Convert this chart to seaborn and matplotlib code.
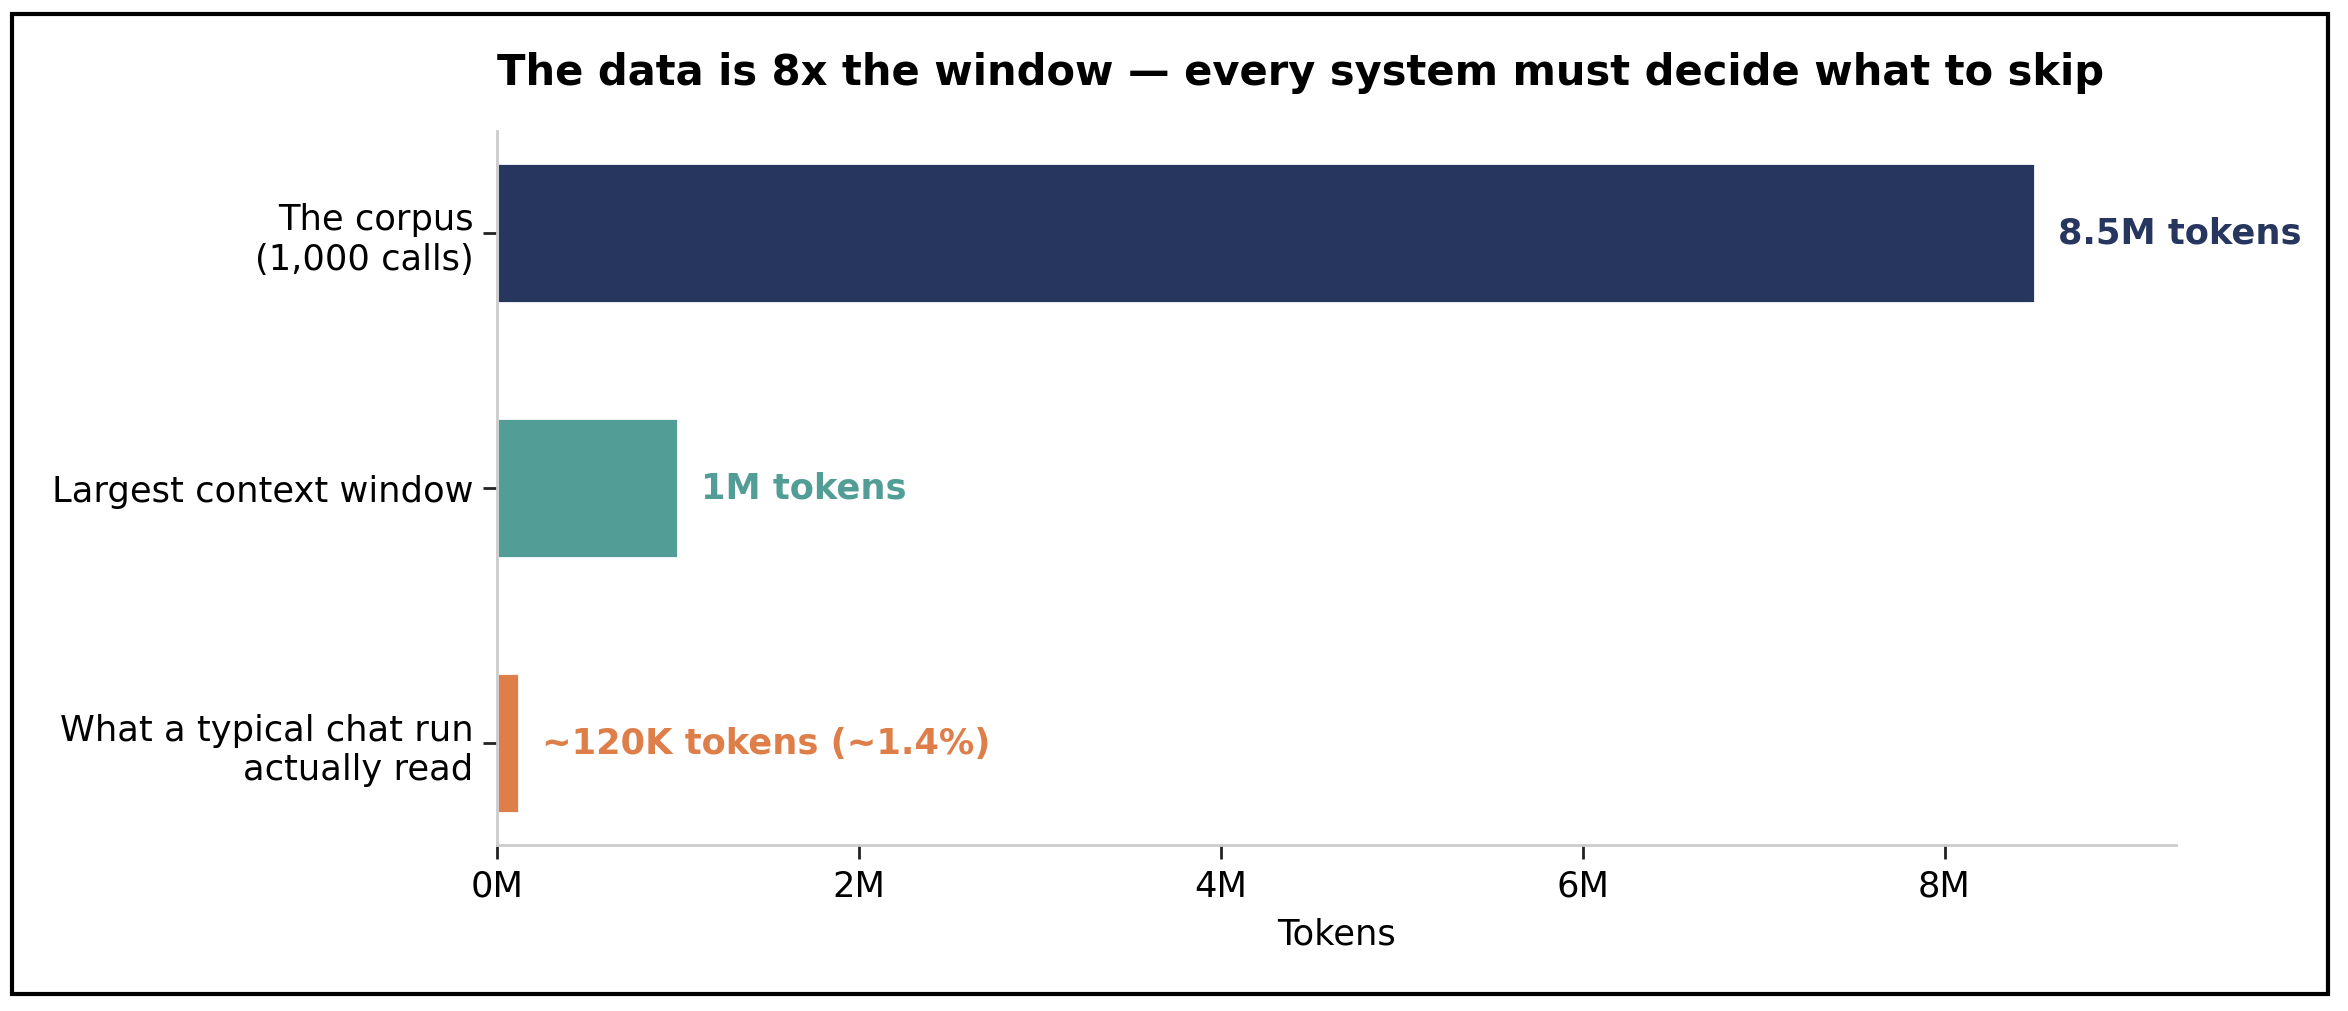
import matplotlib.pyplot as plt
from matplotlib.patches import Rectangle
from matplotlib.ticker import FuncFormatter
import seaborn as sns
import pandas as pd

categories = ["The corpus\n(1,000 calls)", "Largest context window",
              "What a typical chat run\nactually read"]
tokens = [8_500_000, 1_000_000, 120_000]
value_labels = ["8.5M tokens", "1M tokens", "~120K tokens (~1.4%)"]
bar_colors = ["#27365f", "#529e97", "#de7f4a"]
x_ticks = [0, 2_000_000, 4_000_000, 6_000_000, 8_000_000]

sns.set_theme(style="white")
plt.rcParams['font.family'] = ['DejaVu Sans']
plt.rcParams.update({'text.color': 'black', 'axes.labelcolor': 'black',
                     'xtick.color': 'black', 'ytick.color': 'black'})

fig = plt.figure(figsize=(11.74, 5.06), dpi=200)
ax = fig.add_axes([0.2117, 0.164, 0.7151, 0.7056])

df = pd.DataFrame({"category": categories, "tokens": tokens})
sns.barplot(data=df, x="tokens", y="category", hue="category",
            palette=bar_colors, legend=False, width=0.55, saturation=1, ax=ax)

# value labels just past the end of each bar
offset = max(tokens) * 0.015
for i, (v, lab, c) in enumerate(zip(tokens, value_labels, bar_colors)):
    ax.text(v + offset, i, lab, va='center', ha='left',
            fontsize=12.7, fontweight='bold', color=c)

ax.set_xlim(0, 9.28e6)
ax.set_ylim(2.4, -0.4)
ax.set_xticks(x_ticks)
ax.xaxis.set_major_formatter(FuncFormatter(lambda x, _: f"{x / 1e6:.0f}M"))
ax.set_xlabel("Tokens", fontsize=12.7, labelpad=5)
ax.set_ylabel("")
ax.tick_params(axis='both', labelsize=12.7, bottom=True, left=True,
               length=5, width=1, color='#222222')
ax.set_title("The data is 8x the window \u2014 every system must decide what to skip",
             loc='left', fontsize=15, fontweight='bold', pad=17)

sns.despine(ax=ax)
for side in ['left', 'bottom']:
    ax.spines[side].set_color('#cccccc')
    ax.spines[side].set_linewidth(1)

fig.patches.append(Rectangle((0.005, 0.017), 0.9865, 0.968, transform=fig.transFigure,
                             fill=False, edgecolor='black', linewidth=1.5))

fig.savefig("out.png", dpi=200)
plt.close(fig)
